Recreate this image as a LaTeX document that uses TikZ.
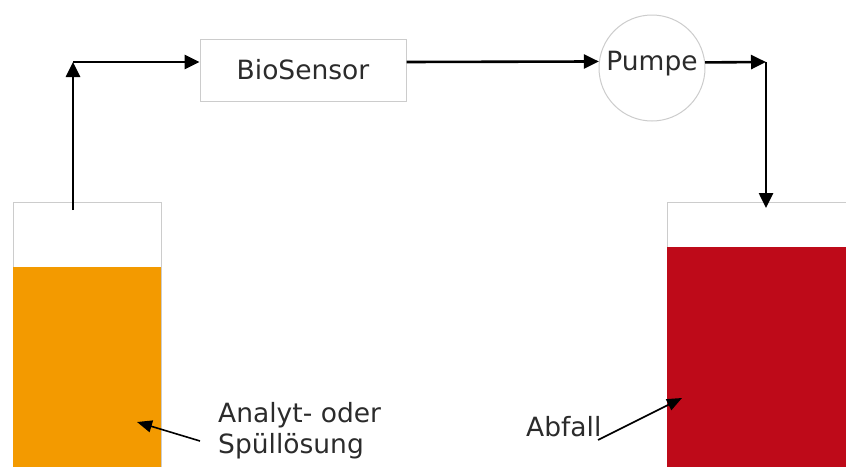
\documentclass[tikz,border=0pt]{standalone}
\usepackage{fontspec}
\setmainfont{DejaVu Sans}
\usetikzlibrary{arrows.meta}
\definecolor{txt}{HTML}{2B2B2B}
\definecolor{boxline}{HTML}{CCCCCC}
\definecolor{orangefill}{HTML}{F39A00}
\definecolor{redfill}{HTML}{BE0A19}
\tikzset{
  flow/.style={line width=2.6pt, -{Triangle[length=15pt,width=14pt]}},
  pointer/.style={line width=1.6pt, -{Triangle[length=15pt,width=12pt]}},
  unitbox/.style={draw=boxline, line width=1pt, fill=white, text=txt, font=\fontsize{26.5}{31}\selectfont},
  lbl/.style={text=txt, font=\fontsize{26.5}{31}\selectfont, align=left, inner sep=0pt}
}
\begin{document}
\begin{tikzpicture}[x=1pt,y=-1pt]
\useasboundingbox (0,0) rectangle (846,466);
\clip (0,0) rectangle (846,466);
% left beaker
\draw[boxline, line width=1pt, fill=white] (13,202) rectangle (161,480);
\fill[orangefill] (13,267) rectangle (161,480);
% right beaker
\draw[boxline, line width=1pt, fill=white] (667,202) rectangle (860,480);
\fill[redfill] (667,247) rectangle (860,480);
% units
\node[unitbox, minimum width=206pt, minimum height=62pt] (bio) at (303,70) {BioSensor};
\node[unitbox, circle, minimum size=106pt, inner sep=0pt] (pump) at (652,68) {};
\node[text=txt, font=\fontsize{26.5}{31}\selectfont] (pumptxt) at (652,64) {Pumpe};
% connectors
\coordinate (src) at (73,210);
\coordinate (c1) at (73,62);
\coordinate (c2) at (766,62);
\coordinate (dst) at (766,208);
\draw[flow] (src) -- (c1);
\draw[flow] (c1) -- (c1 -| bio.west);
\draw[flow] (c1 -| bio.east) -- (pump.173.5);
\draw[flow] (pump.6.5) -- (c2);
\draw[flow] (c2) -- (dst);
% labels
\node[lbl, anchor=north west] (ana) at (218,402) {Analyt- oder\\Spüllösung};
\coordinate (anatip) at (137,422);
\coordinate (anatail) at (200,441);
\draw[pointer] (anatail) -- (anatip);
\node[lbl, anchor=north west] (abf) at (526,416) {Abfall};
\coordinate (abftip) at (682,398);
\coordinate (abftail) at (598,440);
\draw[pointer] (abftail) -- (abftip);
\end{tikzpicture}
\end{document}
